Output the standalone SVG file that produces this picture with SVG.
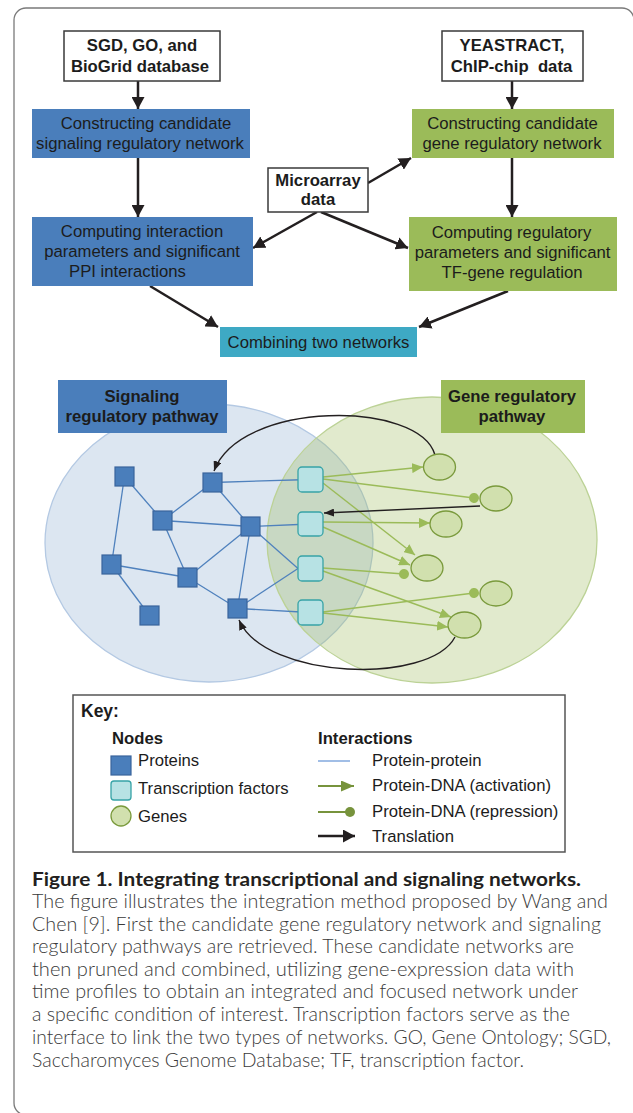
<svg xmlns="http://www.w3.org/2000/svg" width="633" height="1113" viewBox="0 0 633 1113">
<style>
.ft{font-family:"Liberation Sans",Arial,sans-serif;font-size:16.7px;fill:#1c1c1c;text-anchor:middle}
.fb{font-family:"Liberation Sans",Arial,sans-serif;font-size:16.7px;fill:#1c1c1c;text-anchor:middle;font-weight:bold}
.kt{font-family:"Liberation Sans",Arial,sans-serif;font-size:16.7px;fill:#1c1c1c}
.kb{font-family:"Liberation Sans",Arial,sans-serif;font-size:16.7px;fill:#1c1c1c;font-weight:bold}
.cap{font-family:Lato,"Open Sans",sans-serif;font-size:18.8px;fill:#3a3a3a;font-weight:300}
.capb{font-family:Lato,"Open Sans",sans-serif;font-size:18.8px;fill:#231f20;font-weight:bold}
.flow{stroke:#231f20;stroke-width:2.5;fill:none;marker-end:url(#ah)}
.pp{stroke:#4f81bd;stroke-width:1.3;fill:none}
.act{stroke:#9bbb59;stroke-width:1.4;fill:none;marker-end:url(#ag)}
.rep{stroke:#9bbb59;stroke-width:1.4;fill:none;marker-end:url(#dot)}
.tr{stroke:#231f20;stroke-width:1.4;fill:none;marker-end:url(#at)}
.prot{fill:#4a7ebb;stroke:#3a649c;stroke-width:1.2}
.tf{fill:#b7e2e4;stroke:#37a3a6;stroke-width:1.3}
.gene{fill:#d1e0ae;stroke:#7a9a3c;stroke-width:1.3}
.wbox{fill:#ffffff;stroke:#3a3a3a;stroke-width:1.5}
</style>
<defs>
<marker id="ah" markerUnits="userSpaceOnUse" viewBox="0 0 12 13" refX="12" refY="6.5" markerWidth="12" markerHeight="13" orient="auto"><path d="M0,0 L12,6.5 L0,13 z" fill="#231f20"/></marker>
<marker id="ag" markerUnits="userSpaceOnUse" viewBox="0 0 11 10" refX="11" refY="5" markerWidth="11" markerHeight="10" orient="auto"><path d="M0,0 L11,5 L0,10 z" fill="#9bbb59"/></marker>
<marker id="dot" markerUnits="userSpaceOnUse" viewBox="0 0 10 10" refX="5" refY="5" markerWidth="10" markerHeight="10" orient="auto"><circle cx="5" cy="5" r="5" fill="#9bbb59"/></marker>
<marker id="at" markerUnits="userSpaceOnUse" viewBox="0 0 10 8" refX="10" refY="4" markerWidth="10" markerHeight="8" orient="auto"><path d="M0,0 L10,4 L0,8 z" fill="#231f20"/></marker>
<marker id="akg" markerUnits="userSpaceOnUse" viewBox="0 0 13 11" refX="13" refY="5.5" markerWidth="13" markerHeight="11" orient="auto"><path d="M0,0 L13,5.5 L0,11 z" fill="#77933c"/></marker>
<marker id="akd" markerUnits="userSpaceOnUse" viewBox="0 0 10 10" refX="5" refY="5" markerWidth="10" markerHeight="10" orient="auto"><circle cx="5" cy="5" r="5" fill="#77933c"/></marker>
</defs>
<rect x="0" y="0" width="633" height="1113" fill="#ffffff"/>
<path id="frame" d="M26 1115 A12 12 0 0 1 14 1103 L14 20 A12 12 0 0 1 26 8 L622 8 A12 12 0 0 1 634 20" fill="none" stroke="#7a7a7a" stroke-width="1.3"/>

<g id="connectors">
<path class="flow" d="M138 81 L138 109"/>
<path class="flow" d="M138 158 L138 217"/>
<path class="flow" d="M512 81 L512 109"/>
<path class="flow" d="M512 158 L512 217"/>
<path class="flow" d="M368 183 L411 158"/>
<path class="flow" d="M317 212 L253 248"/>
<path class="flow" d="M321 212 L408 248"/>
<path class="flow" d="M150 286 L218 327"/>
<path class="flow" d="M508 291 L419 327"/>
</g>

<g id="n-sgd"><rect class="wbox" x="64" y="31" width="156" height="50"/><text class="fb" x="142" y="51">SGD, GO, and</text><text class="fb" x="140" y="72">BioGrid database</text></g>
<g id="n-yeast"><rect class="wbox" x="442" y="31" width="141" height="50"/><text class="fb" x="512" y="51">YEASTRACT,</text><text class="fb" x="511.5" y="72" xml:space="preserve">ChIP-chip  data</text></g>
<g id="n-cons-sig"><rect x="32" y="109" width="218" height="49" fill="#4a7ebb"/><text class="ft" x="146" y="129">Constructing candidate</text><text class="ft" x="140" y="149">signaling regulatory network</text></g>
<g id="n-cons-gene"><rect x="412" y="109" width="202" height="49" fill="#9bbb59"/><text class="ft" x="512.5" y="129">Constructing candidate</text><text class="ft" x="512" y="149">gene regulatory network</text></g>
<g id="n-micro"><rect class="wbox" x="268" y="168" width="100" height="44"/><text class="fb" x="318" y="186">Microarray</text><text class="fb" x="318" y="205">data</text></g>
<g id="n-comp-sig"><rect x="32" y="217" width="221" height="69" fill="#4a7ebb"/><text class="ft" x="142" y="237">Computing interaction</text><text class="ft" x="142" y="257">parameters and significant</text><text class="ft" x="127.5" y="277">PPI interactions</text></g>
<g id="n-comp-gene"><rect x="409" y="217" width="208" height="74" fill="#9bbb59"/><text class="ft" x="511.5" y="238">Computing regulatory</text><text class="ft" x="512.5" y="258">parameters and significant</text><text class="ft" x="512" y="278">TF-gene regulation</text></g>
<g id="n-combine"><rect x="220" y="327" width="197" height="30" fill="#3ea9c4"/><text class="ft" x="318.5" y="348">Combining two networks</text></g>

<g id="pathways">
<ellipse cx="209" cy="543" rx="164" ry="139" fill="#dce6f1" stroke="#b4c9e3" stroke-width="1.3"/>
<ellipse cx="432" cy="540" rx="165" ry="143" fill="#9bbb59" fill-opacity="0.3" stroke="#bcd296" stroke-width="1.3"/>
</g>
<g id="label-sig"><rect x="58" y="380" width="169" height="53" fill="#4a7ebb"/><text class="fb" x="142" y="402">Signaling</text><text class="fb" x="142" y="422">regulatory pathway</text></g>
<g id="label-gene"><rect x="441" y="380" width="144" height="53" fill="#9bbb59"/><text class="fb" x="512" y="402">Gene regulatory</text><text class="fb" x="512" y="422">pathway</text></g>

<g id="network-edges">
<path class="pp" d="M124.5 476.5 L162.5 520.5"/>
<path class="pp" d="M124.5 476.5 L111.5 564.5"/>
<path class="pp" d="M212.5 482.5 L162.5 520.5"/>
<path class="pp" d="M212.5 482.5 L250.5 526.5"/>
<path class="pp" d="M212.5 482.5 L310 479.5"/>
<path class="pp" d="M162.5 520.5 L250.5 526.5"/>
<path class="pp" d="M162.5 520.5 L187.5 577.5"/>
<path class="pp" d="M250.5 526.5 L310 524"/>
<path class="pp" d="M250.5 526.5 L187.5 577.5"/>
<path class="pp" d="M250.5 526.5 L237.5 608.5"/>
<path class="pp" d="M250.5 526.5 L298 568.5"/>
<path class="pp" d="M111.5 564.5 L187.5 577.5"/>
<path class="pp" d="M111.5 564.5 L149.5 615.5"/>
<path class="pp" d="M187.5 577.5 L237.5 608.5"/>
<path class="pp" d="M237.5 608.5 L298 568.5"/>
<path class="pp" d="M237.5 608.5 L310 612.5"/>
<path class="act" d="M323 477 L423 467"/>
<path class="rep" d="M323 479 L474 498"/>
<path class="act" d="M323 483 L415 555"/>
<path class="act" d="M323 522 L430 523"/>
<path class="act" d="M323 527 L410 565"/>
<path class="rep" d="M323 568 L404 574"/>
<path class="act" d="M323 571 L451 617"/>
<path class="rep" d="M323 612 L474 593"/>
<path class="act" d="M323 613 L448 627"/>
<path class="tr" d="M435 455 C420 400 240 400 214 471"/>
<path class="tr" d="M455 637 C430 685 265 680 239 620"/>
<path class="tr" d="M480 506 L324 513"/>
</g>

<g id="proteins">
<rect class="prot" x="115" y="467" width="19" height="19"/>
<rect class="prot" x="203" y="473" width="19" height="19"/>
<rect class="prot" x="153" y="511" width="19" height="19"/>
<rect class="prot" x="241" y="517" width="19" height="19"/>
<rect class="prot" x="102" y="555" width="19" height="19"/>
<rect class="prot" x="178" y="568" width="19" height="19"/>
<rect class="prot" x="140" y="606" width="19" height="19"/>
<rect class="prot" x="228" y="599" width="19" height="19"/>
</g>
<g id="tfs">
<rect class="tf" x="298" y="467" width="25" height="25" rx="4"/>
<rect class="tf" x="298" y="512" width="25" height="24" rx="4"/>
<rect class="tf" x="298" y="556" width="25" height="25" rx="4"/>
<rect class="tf" x="298" y="600" width="25" height="25" rx="4"/>
</g>
<g id="genes">
<ellipse class="gene" cx="439.5" cy="467" rx="16" ry="13"/>
<ellipse class="gene" cx="496" cy="498.5" rx="16" ry="12.5"/>
<ellipse class="gene" cx="446" cy="524" rx="16" ry="13"/>
<ellipse class="gene" cx="427" cy="568" rx="16" ry="13"/>
<ellipse class="gene" cx="496" cy="593.5" rx="16" ry="12.5"/>
<ellipse class="gene" cx="464.5" cy="625" rx="16.5" ry="13"/>
</g>

<g id="key">
<rect x="73" y="695" width="492" height="157" fill="#ffffff" stroke="#555555" stroke-width="1.5"/>
<text class="kb" x="81" y="717" style="font-size:17.5px">Key:</text>
<text class="kb" x="112" y="744">Nodes</text>
<rect class="prot" x="111" y="756" width="20" height="19"/>
<text class="kt" x="138" y="766">Proteins</text>
<rect class="tf" x="111" y="781" width="20" height="19" rx="3"/>
<text class="kt" x="138" y="794">Transcription factors</text>
<circle class="gene" cx="121" cy="816" r="10"/>
<text class="kt" x="138" y="822">Genes</text>
<text class="kb" x="318" y="744">Interactions</text>
<path d="M318 761 L350 761" stroke="#8aaee0" stroke-width="1.6"/>
<text class="kt" x="372" y="766">Protein-protein</text>
<path d="M318 786 L354 786" stroke="#77933c" stroke-width="2" marker-end="url(#akg)"/>
<text class="kt" x="372" y="791">Protein-DNA (activation)</text>
<path d="M318 812 L350 812" stroke="#77933c" stroke-width="2" marker-end="url(#akd)"/>
<text class="kt" x="372" y="817">Protein-DNA (repression)</text>
<path d="M318 836 L355 836" stroke="#231f20" stroke-width="2.5" marker-end="url(#ah)"/>
<text class="kt" x="372" y="842">Translation</text>
</g>

<g id="caption">
<text class="capb" x="32" y="886" textLength="549" lengthAdjust="spacingAndGlyphs">Figure 1. Integrating transcriptional and signaling networks.</text>
<text class="cap" x="32" y="908" textLength="576" lengthAdjust="spacingAndGlyphs">The figure illustrates the integration method proposed by Wang and</text>
<text class="cap" x="32" y="931" textLength="569" lengthAdjust="spacingAndGlyphs">Chen [9]. First the candidate gene regulatory network and signaling</text>
<text class="cap" x="32" y="953" textLength="542" lengthAdjust="spacingAndGlyphs">regulatory pathways are retrieved. These candidate networks are</text>
<text class="cap" x="32" y="976" textLength="542" lengthAdjust="spacingAndGlyphs">then pruned and combined, utilizing gene-expression data with</text>
<text class="cap" x="32" y="998" textLength="546" lengthAdjust="spacingAndGlyphs">time profiles to obtain an integrated and focused network under</text>
<text class="cap" x="32" y="1021" textLength="538" lengthAdjust="spacingAndGlyphs">a specific condition of interest. Transcription factors serve as the</text>
<text class="cap" x="32" y="1044" textLength="579" lengthAdjust="spacingAndGlyphs">interface to link the two types of networks. GO, Gene Ontology; SGD,</text>
<text class="cap" x="32" y="1067" textLength="492" lengthAdjust="spacingAndGlyphs">Saccharomyces Genome Database; TF, transcription factor.</text>
</g>
</svg>
